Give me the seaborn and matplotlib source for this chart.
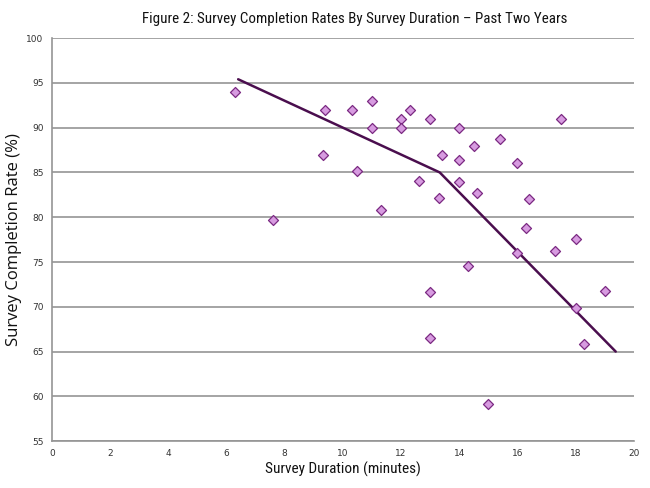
import matplotlib
matplotlib.use("Agg")
import matplotlib.pyplot as plt
import seaborn as sns
import pandas as pd

duration = [6.3, 7.6, 9.3, 9.4, 10.3, 10.5, 11.0, 11.0, 11.3, 12.0, 12.0, 12.3, 12.6,
            13.0, 13.0, 13.0, 13.3, 13.4, 14.0, 14.0, 14.0, 14.3, 14.5, 14.6, 15.0,
            15.4, 16.0, 16.0, 16.3, 16.4, 17.3, 17.5, 18.0, 18.0, 18.3, 19.0]
completion = [94.0, 79.7, 87.0, 92.0, 92.0, 85.2, 93.0, 90.0, 80.8, 91.0, 90.0, 92.0, 84.0,
              91.0, 71.7, 66.5, 82.1, 87.0, 90.0, 86.4, 83.9, 74.5, 88.0, 82.7, 59.2,
              88.7, 86.0, 76.0, 78.8, 82.0, 76.2, 91.0, 77.6, 69.9, 65.8, 71.8]

trend_x = [6.4, 13.33, 19.38]
trend_y = [95.4, 85.0, 65.0]

sns.set_theme(style="white")
plt.rcParams['font.family'] = ['DejaVu Sans']

fig = plt.figure(figsize=(6.5, 4.88), dpi=100)
ax = fig.add_axes([0.08, 0.096, 0.895, 0.826])

df = pd.DataFrame({"x": duration, "y": completion})
tdf = pd.DataFrame({"x": trend_x, "y": trend_y})

ax.set_xlim(0, 20)
ax.set_ylim(55, 100)
ax.set_xticks(range(0, 21, 2))
ax.set_yticks(range(55, 101, 5))
ax.yaxis.grid(True, color="#959595", linewidth=1.2)
ax.set_axisbelow(True)

sns.lineplot(data=tdf, x="x", y="y", ax=ax, color="#4a0e4e", linewidth=1.8, zorder=2)
sns.scatterplot(data=df, x="x", y="y", ax=ax, marker="D", s=26, color="#d79be0",
                edgecolor="#7b2a82", linewidth=0.9, zorder=3)

for s in ["top", "right"]:
    ax.spines[s].set_visible(False)
for s in ["left", "bottom"]:
    ax.spines[s].set_color("#959595")
    ax.spines[s].set_linewidth(1.2)

ax.tick_params(axis="both", which="both", direction="out", length=4, width=1,
               color="#959595", labelsize=6.5, labelcolor="#333333", pad=2)

fam = ["Roboto Condensed", "DejaVu Sans"]
ax.set_xlabel("Survey Duration (minutes)", fontsize=11, family=fam, labelpad=2, color="#111111")
ax.set_ylabel("Survey Completion Rate (%)", fontsize=12, family=["Open Sans", "DejaVu Sans"],
              labelpad=3, color="#111111")
fig.text(0.545, 0.962, "Figure 2: Survey Completion Rates By Survey Duration \u2013 Past Two Years",
         ha="center", va="center", fontsize=10.8, family=fam, color="#111111")

fig.savefig("out.png", dpi=100)
